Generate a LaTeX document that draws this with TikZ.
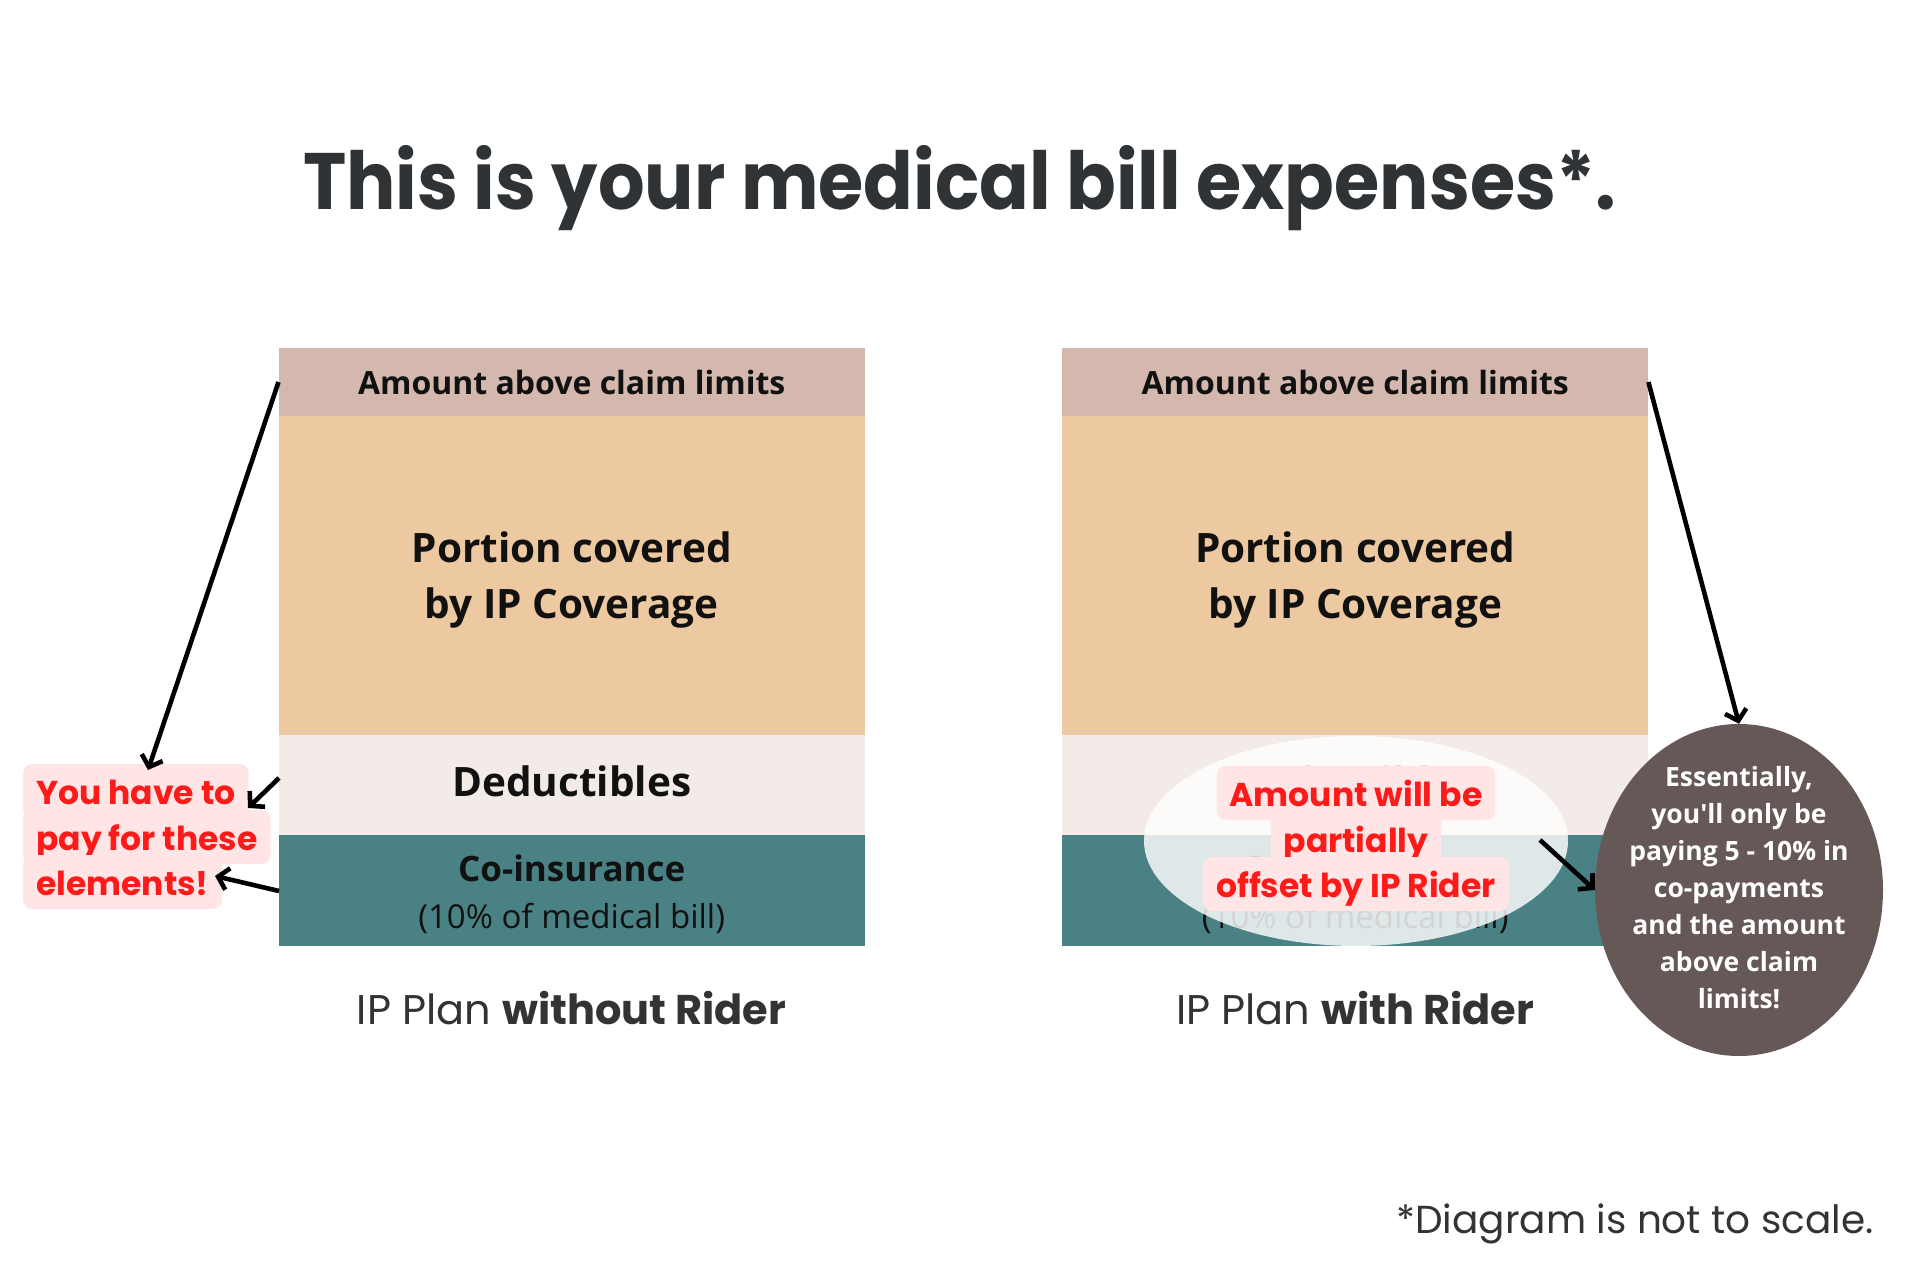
\documentclass[tikz,border=0pt]{standalone}
\usepackage{fontspec}
\setmainfont{Open Sans}
\newfontfamily\pop{Poppins}
\newfontfamily\poptitle[FakeStretch=0.916]{Poppins}
\newfontfamily\osans{Open Sans}
\usetikzlibrary{shapes.geometric,arrows.meta}
\definecolor{cBrown}{HTML}{D5B8AD}
\definecolor{cTan}{HTML}{ECC9A0}
\definecolor{cLight}{HTML}{F3EBE8}
\definecolor{cTeal}{HTML}{4A8184}
\definecolor{cTitle}{HTML}{2F3335}
\definecolor{cRed}{HTML}{FF1A1A}
\definecolor{cPink}{HTML}{FFE5E5}
\definecolor{cDark}{HTML}{675858}
\definecolor{cGrey}{HTML}{333333}
\definecolor{cInk}{HTML}{111111}
\newcommand\fsz[2]{\fontsize{#1}{#2}\selectfont}
\tikzset{
  band/.style={rectangle, inner sep=0pt, minimum width=586pt, anchor=north west},
  btext/.style={align=center, text=cInk, inner sep=0pt},
  redlbl/.style={rectangle, fill=cPink, rounded corners=9pt, text=cRed, inner xsep=13pt, inner ysep=10pt,
     text height=30pt, text depth=4pt, font=\pop\bfseries\fsz{33}{40}},
  arr/.style={line width=4.6pt, -{Straight Barb[length=10pt,width=22pt]}},
  caption/.style={text=cGrey, font=\pop\fsz{41.5}{48}},
}
\begin{document}
\begin{tikzpicture}[x=1pt,y=-1pt]
\useasboundingbox[fill=white] (0,0) rectangle (1919,1281);
% title
\node[anchor=base, text=cTitle, font=\poptitle\bfseries\fsz{80}{96}] (T) at (959.5,210) {This is your medical bill expenses*.};

% left stack
\node[band, fill=cBrown, minimum height=68.4pt] (LA) at (278.5,347.6) {};
\node[band, fill=cTan, minimum height=318.3pt] (LP) at (278.5,416) {};
\node[band, fill=cLight, minimum height=100.4pt] (LD) at (278.5,734.3) {};
\node[band, fill=cTeal, minimum height=111.3pt] (LC) at (278.5,834.7) {};
\node[btext, font=\osans\bfseries\fsz{32}{38}] (LAt) at (LA.center) {Amount above claim limits};
\node[btext, font=\osans\bfseries\fsz{40.5}{56}] (LPt) at ([yshift=-5pt]LP.center) {Portion covered\\ by IP Coverage};
\node[btext, font=\osans\bfseries\fsz{40.5}{46}] (LDt) at ([yshift=3pt]LD.center) {Deductibles};
\node[btext, font=\osans\fsz{33}{47}] (LCt) at ([yshift=-4pt]LC.center) {{\fsz{35}{47}\bfseries Co-insurance}\\ (10\% of medical bill)};

% right stack
\node[band, fill=cBrown, minimum height=68.4pt] (RA) at (1062,347.6) {};
\node[band, fill=cTan, minimum height=318.3pt] (RP) at (1062,416) {};
\node[band, fill=cLight, minimum height=100.4pt] (RD) at (1062,734.3) {};
\node[band, fill=cTeal, minimum height=111.3pt] (RC) at (1062,834.7) {};
\node[btext, font=\osans\bfseries\fsz{32}{38}] (RAt) at (RA.center) {Amount above claim limits};
\node[btext, font=\osans\bfseries\fsz{40.5}{56}] (RPt) at ([yshift=-5pt]RP.center) {Portion covered\\ by IP Coverage};
\node[btext, font=\osans\bfseries\fsz{40.5}{46}] (RDt) at ([yshift=3pt]RD.center) {Deductibles};
\node[btext, font=\osans\fsz{33}{47}] (RCt) at ([yshift=-4pt]RC.center) {{\fsz{35}{47}\bfseries Co-insurance}\\ (10\% of medical bill)};

% captions
\node[caption] (CL) at (571.5,1008) {IP Plan \textbf{without Rider}};
\node[caption] (CR) at (1355,1008) {IP Plan \textbf{with Rider}};
\node[caption, anchor=east, font=\pop\fsz{39}{46}] (FN) at (1877,1224) {*Diagram is not to scale.};

% white translucent ellipse
\node[ellipse, fill=white, fill opacity=0.82, minimum width=424pt, minimum height=210pt, inner sep=0pt] (W) at (1356,841) {};

% left red labels
\node[redlbl, anchor=base west] (L2) at (23,850) {pay for these};
\node[redlbl, anchor=base west] (L1) at (23,804) {You have to};
\node[redlbl, anchor=base west] (L3) at (23,895) {elements!};

% right red labels
\node[redlbl, anchor=base] (R2) at (1356,852) {partially};
\node[redlbl, anchor=base] (R1) at (1356,806) {Amount will be};
\node[redlbl, anchor=base] (R3) at (1356,897) {offset by IP Rider};

% dark circle
\node[ellipse, fill=cDark, minimum width=288pt, minimum height=332pt, inner sep=0pt] (C) at (1739,890) {};
\node[align=center, text=white, font=\osans\bfseries\fsz{26.5}{37}] (Ct) at (1739,888) {Essentially,\\ you'll only be\\ paying 5 - 10\% in\\ co-payments\\ and the amount\\ above claim\\ limits!};

% arrow end coordinates
\coordinate (a1) at (148,770);
\coordinate (a2s) at (279,778);
\coordinate (a2) at (248,808);
\coordinate (a3s) at (279,891);
\coordinate (a3) at (215,876);
\coordinate (a5s) at (1540,840);

\draw[arr] (LA.west) -- (a1);
\draw[arr] (a2s) -- (a2);
\draw[arr] (a3s) -- (a3);
\draw[arr] (RA.east) -- (C.north);
\draw[arr] (a5s) -- (C.west);
\end{tikzpicture}
\end{document}
